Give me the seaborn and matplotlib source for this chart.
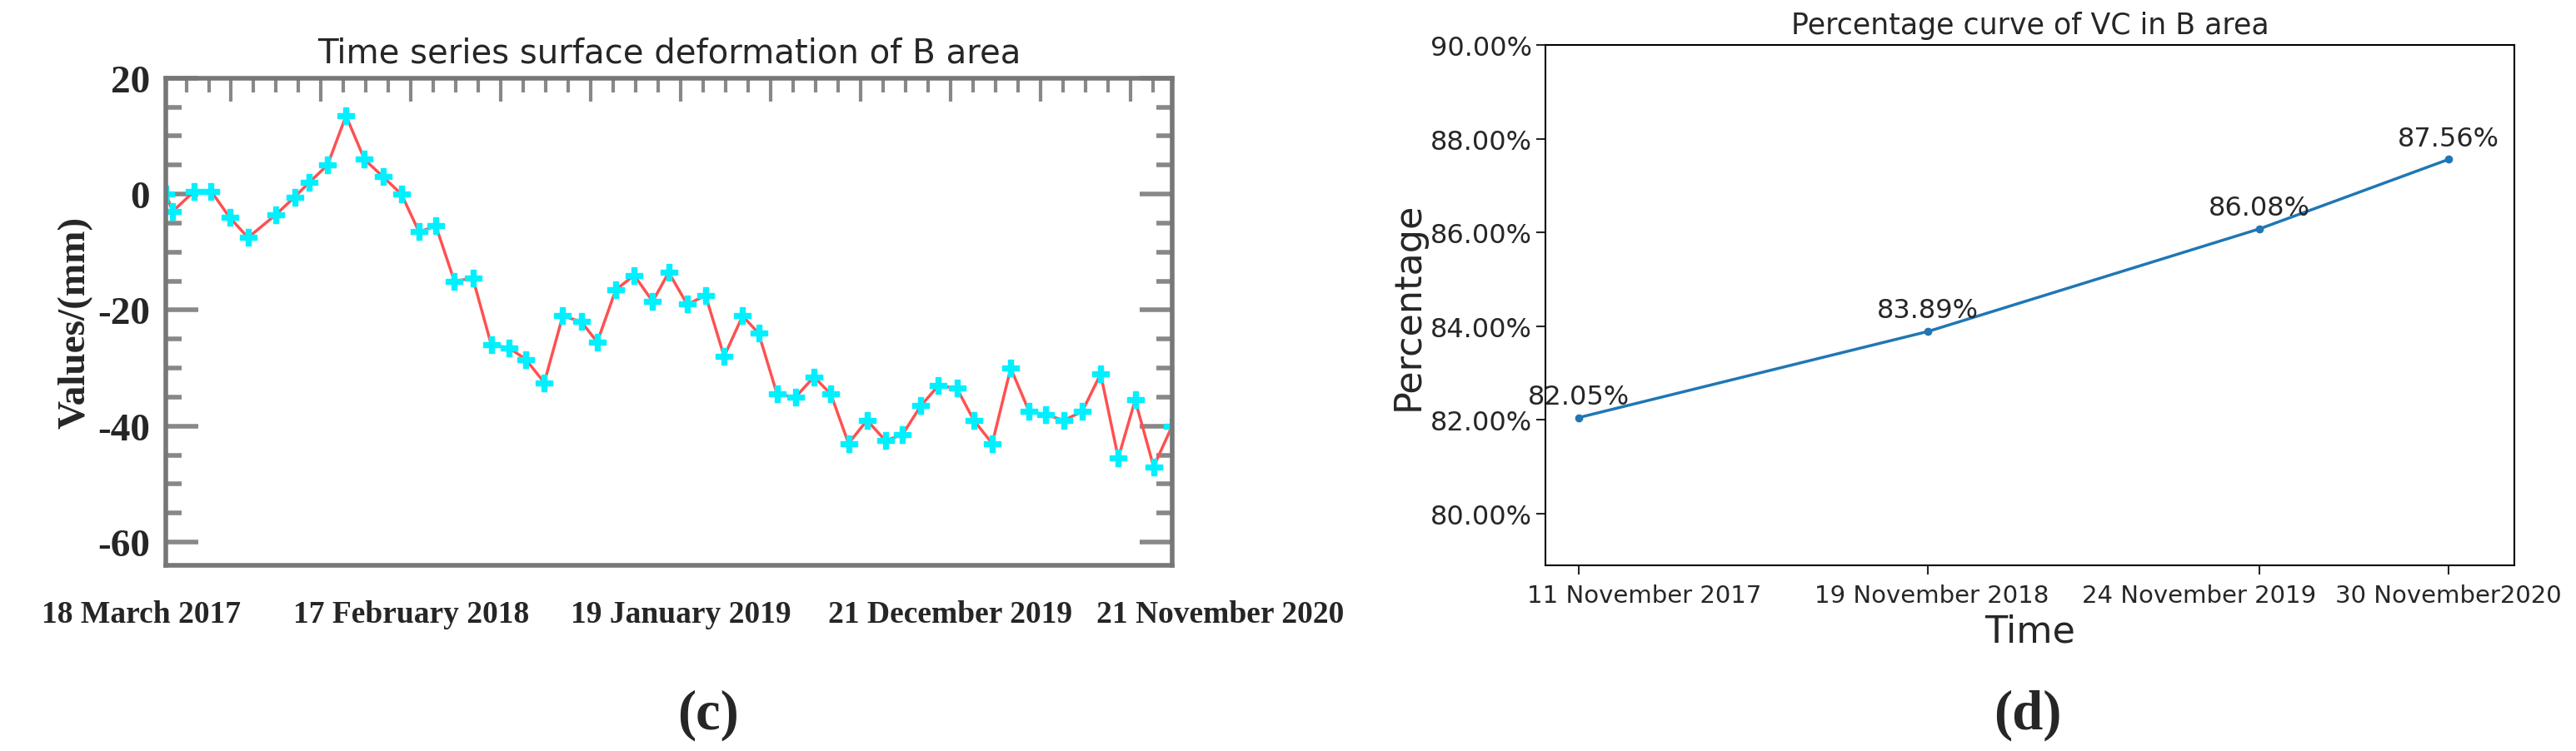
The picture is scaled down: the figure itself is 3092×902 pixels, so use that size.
import matplotlib
matplotlib.use("Agg")
import matplotlib.pyplot as plt
import matplotlib.transforms as mtransforms
from matplotlib.ticker import MultipleLocator, FuncFormatter
import seaborn as sns
import pandas as pd

# Panel (c): deformation time series (days since 18 March 2017)
days = [31, 39, 66, 87, 110, 133, 168, 191, 209, 232, 255, 278, 301, 324, 346, 367, 390, 413,
        436, 458, 479, 502, 525, 548, 568, 591, 614, 637, 657, 680, 703, 726, 749, 769, 792,
        815, 838, 859, 881, 904, 927, 948, 971, 993, 1016, 1037, 1060, 1083, 1106, 1126, 1149,
        1172, 1195, 1217, 1238, 1261, 1284]
deform = [0, -3, 0.5, 0.5, -4, -7.5, -3.5, -0.5, 2, 5, 13.5, 6, 3, 0, -6.5, -5.5, -15, -14.5,
          -26, -26.5, -28.5, -32.5, -21, -22, -25.5, -16.5, -14, -18.5, -13.5, -19, -17.5, -28,
          -21, -24, -34.5, -35, -31.5, -34.5, -43, -39, -42.5, -41.5, -36.5, -33, -33.5, -39,
          -43, -30, -37.5, -38, -39, -37.5, -31, -45.5, -35.5, -47, -40]
date_ticks = [0, 336, 672, 1008, 1344]
date_labels = ["18 March 2017", "17 February 2018", "19 January 2019",
               "21 December 2019", "21 November 2020"]

# Panel (d): VC percentage
vc_pos = [0, 213, 415, 530]
vc_pct = [82.05, 83.89, 86.08, 87.56]
vc_label_pos = [40, 215, 378, 530]
vc_labels = ["11 November 2017", "19 November 2018", "24 November 2019", "30 November2020"]

sns.set_style("white")
plt.rcParams["axes.unicode_minus"] = False
fig = plt.figure(figsize=(30.92, 9.03), dpi=100)

# ---- left panel
ax1 = fig.add_axes([0.0645, 0.247, 0.3905, 0.648])
sns.lineplot(x=days, y=deform, ax=ax1, color="#ff5050", linewidth=2.5)
ax1.plot(days, deform, ls="none", marker="P", color="#00f0ff", markersize=15)
ax1.set_xlim(31, 1284)
ax1.set_ylim(-64, 20)
for s in ax1.spines.values():
    s.set_color("#777777")
    s.set_linewidth(4)
ax1.yaxis.set_major_locator(MultipleLocator(20))
ax1.yaxis.set_minor_locator(MultipleLocator(5))
ax1.tick_params(axis="y", which="major", direction="in", length=28, width=4, color="#888888",
                left=True, right=True, labelsize=34, pad=14)
ax1.tick_params(axis="y", which="minor", direction="in", length=14, width=4, color="#888888",
                left=True, right=True)
ax1.xaxis.set_major_locator(MultipleLocator(336 / 3))
ax1.xaxis.set_minor_locator(MultipleLocator(336 / 12))
ax1.tick_params(axis="x", which="major", direction="in", length=20, width=3, color="#888888",
                top=True, bottom=False, labelbottom=False)
ax1.tick_params(axis="x", which="minor", direction="in", length=12, width=3, color="#888888",
                top=True, bottom=False)
for lab in ax1.get_yticklabels():
    lab.set_fontfamily("Liberation Serif")
    lab.set_fontweight("bold")
ax1.set_ylabel("Values/(mm)", fontsize=34, fontfamily="Liberation Serif", fontweight="bold")
ax1.set_title("Time series surface deformation of B area", fontsize=29, pad=14)
trans = mtransforms.blended_transform_factory(ax1.transData, ax1.transAxes)
for d, lab in zip(date_ticks, date_labels):
    ax1.text(d, -0.07, lab, transform=trans, ha="center", va="top", fontsize=27,
             fontfamily="Liberation Serif", fontweight="bold", clip_on=False)

# ---- right panel
ax2 = fig.add_axes([0.600, 0.247, 0.376, 0.692])
df = pd.DataFrame({"pos": vc_pos, "pct": vc_pct})
sns.lineplot(data=df, x="pos", y="pct", ax=ax2, color="#1f77b4", linewidth=2.5,
             marker="o", markersize=7, markeredgewidth=0)
for x, y in zip(vc_pos, vc_pct):
    ax2.annotate(f"{y:.2f}%", (x, y), xytext=(0, 12), textcoords="offset points",
                 ha="center", fontsize=23)
ax2.set_xlim(-20, 570)
ax2.set_ylim(78.9, 90)
ax2.set_yticks([80, 82, 84, 86, 88, 90])
ax2.yaxis.set_major_formatter(FuncFormatter(lambda v, p: f"{v:.2f}%"))
ax2.set_xticks(vc_pos)
ax2.set_xticklabels([])
ax2.tick_params(labelsize=23, length=8, width=1.5, left=True, bottom=True)
trans2 = mtransforms.blended_transform_factory(ax2.transData, ax2.transAxes)
for x, lab in zip(vc_label_pos, vc_labels):
    ax2.text(x, -0.035, lab, transform=trans2, ha="center", va="top", fontsize=21,
             clip_on=False)
for s in ax2.spines.values():
    s.set_color("black")
    s.set_linewidth(1.5)
ax2.set_xlabel("Time", fontsize=32, labelpad=30)
ax2.set_ylabel("Percentage", fontsize=32)
ax2.set_title("Percentage curve of VC in B area", fontsize=25, pad=10)

fig.text(0.275, 0.03, "(c)", ha="center", fontsize=48, fontfamily="Liberation Serif",
         fontweight="bold")
fig.text(0.787, 0.03, "(d)", ha="center", fontsize=48, fontfamily="Liberation Serif",
         fontweight="bold")

fig.savefig("out.png", dpi=100)
